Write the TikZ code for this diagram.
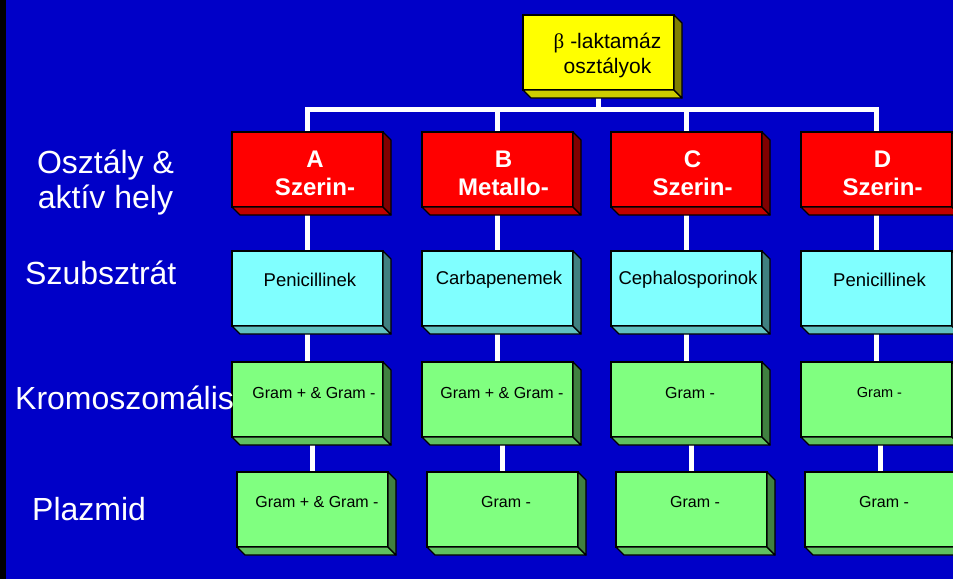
\documentclass[tikz,border=0pt]{standalone}
\usepackage{fontspec}
\setmainfont{Liberation Sans}
\newfontfamily\greekserif{Liberation Serif}
\pgfdeclarelayer{bg}
\pgfdeclarelayer{lines}
\pgfsetlayers{bg,lines,main}
\definecolor{bgblue}{HTML}{0000C8}
\definecolor{yfront}{HTML}{FFFF00}
\definecolor{ybottom}{HTML}{CCCC00}
\definecolor{yside}{HTML}{808000}
\definecolor{rfront}{HTML}{FF0000}
\definecolor{rbottom}{HTML}{C00000}
\definecolor{rside}{HTML}{800000}
\definecolor{cfront}{HTML}{80FFFF}
\definecolor{cbottom}{HTML}{60C0C0}
\definecolor{cside}{HTML}{408080}
\definecolor{gfront}{HTML}{80FF80}
\definecolor{gbottom}{HTML}{60C060}
\definecolor{gside}{HTML}{408040}
\tikzset{
  face/.style={draw=black, line width=1.2pt, minimum width=151pt, minimum height=75pt,
    inner sep=0pt, outer sep=0pt, anchor=north west},
  ybox/.style={face, fill=yfront},
  rbox/.style={face, fill=rfront},
  cbox/.style={face, fill=cfront},
  gbox/.style={face, fill=gfront},
  ytxt/.style={text=black, align=center, inner sep=0pt, font=\fontsize{21}{25}\selectfont},
  rtxt/.style={text=white, align=center, inner sep=0pt, font=\fontsize{24}{28}\selectfont\bfseries},
  ctxt/.style={text=black, inner sep=0pt, font=\fontsize{18.5}{22}\selectfont},
  gtxt/.style={text=black, inner sep=0pt, font=\fontsize{16}{19}\selectfont},
  gtxts/.style={text=black, inner sep=0pt, font=\fontsize{14.5}{17}\selectfont},
  conn/.style={draw=white, line width=5pt, line join=miter},
  lefttxt/.style={text=white, inner sep=0pt, font=\fontsize{32}{35}\selectfont},
}
\newcommand\threedee[3]{%
  \filldraw[fill=#2, draw=black, line width=1.2pt, line join=round]
    (#1.south west) -- ++(8,8) -- ([shift={(8,8)}]#1.south east) -- (#1.south east) -- cycle;
  \filldraw[fill=#3, draw=black, line width=1.2pt, line join=round]
    (#1.north east) -- ++(8,8) -- ([shift={(8,8)}]#1.south east) -- (#1.south east) -- cycle;
}
\begin{document}
\begin{tikzpicture}[x=1pt, y=-1pt]
\clip (0,0) rectangle (953,579);
\begin{pgfonlayer}{bg}
  \fill[bgblue] (0,0) rectangle (953,579);
  \fill[black] (0,0) rectangle (6,579);
\end{pgfonlayer}

% top box
\node[ybox, label={[ytxt, shift={(9,3)}]center:{{\greekserif β} -laktamáz\\osztályok}}] (Y) at (523,15) {};
\threedee{Y}{ybottom}{yside}

% class row
\node[rbox, label={[rtxt, shift={(7.5,3.5)}]center:{A\\Szerin-}}] (rA) at (232,132) {};
\node[rbox, label={[rtxt, shift={(6,3.5)}]center:{B\\Metallo-}}] (rB) at (422,132) {};
\node[rbox, label={[rtxt, shift={(6,3.5)}]center:{C\\Szerin-}}] (rC) at (611,132) {};
\node[rbox, label={[rtxt, shift={(6,3.5)}]center:{D\\Szerin-}}] (rD) at (801,132) {};

% substrate row
\node[cbox, label={[ctxt, shift={(2.5,-8.5)}]center:Penicillinek}] (cA) at (232,251) {};
\node[cbox, label={[ctxt, shift={(1.5,-8.5)}]center:Carbapenemek}] (cB) at (422,251) {};
\node[cbox, label={[ctxt, shift={(1.5,-8.5)}]center:Cephalosporinok}] (cC) at (611,251) {};
\node[cbox, label={[ctxt, shift={(3,-8.5)}]center:Penicillinek}] (cD) at (801,251) {};

% chromosomal row
\node[gbox, label={[gtxt, shift={(6.5,-6.5)}]center:Gram + \& Gram -}] (kA) at (232,362) {};
\node[gbox, label={[gtxt, shift={(4.5,-6.5)}]center:Gram + \& Gram -}] (kB) at (422,362) {};
\node[gbox, label={[gtxt, shift={(3.5,-6.5)}]center:Gram -}] (kC) at (611,362) {};
\node[gbox, label={[gtxts, shift={(3,-6.5)}]center:Gram -}] (kD) at (801,362) {};

% plasmid row
\node[gbox, label={[gtxt, shift={(4.5,-7.5)}]center:Gram + \& Gram -}] (pA) at (237,472) {};
\node[gbox, label={[gtxt, shift={(3.5,-7.5)}]center:Gram -}] (pB) at (427,472) {};
\node[gbox, label={[gtxt, shift={(3.5,-7.5)}]center:Gram -}] (pC) at (616,472) {};
\node[gbox, label={[gtxt, shift={(3.5,-7.5)}]center:Gram -}] (pD) at (805,472) {};

\foreach \c in {A,B,C,D}{
  \threedee{r\c}{rbottom}{rside}
  \threedee{c\c}{cbottom}{cside}
  \threedee{k\c}{gbottom}{gside}
  \threedee{p\c}{gbottom}{gside}
}

% connectors
\coordinate (bus) at (599,109.5);
\begin{pgfonlayer}{lines}
  \draw[conn] (Y) -- (Y |- bus);
  \draw[conn] (rA) -- (rA |- bus) -- (rD |- bus) -- (rD);
  \draw[conn] (rB) -- (rB |- bus);
  \draw[conn] (rC) -- (rC |- bus);
  \foreach \c in {A,B,C,D}{
    \draw[conn] (r\c) -- (c\c) -- (k\c);
    \draw[conn] (p\c) -- (p\c |- k\c);
  }
\end{pgfonlayer}

% row labels
\node[lefttxt, align=center, anchor=north] (l1) at (105.5,150) {Osztály \&\\aktív hely};
\node[lefttxt, anchor=base west] (l2) at (25,284) {Szubsztrát};
\node[lefttxt, anchor=base west] (l3) at (15,409) {Kromoszomális};
\node[lefttxt, anchor=base west] (l4) at (32,520) {Plazmid};
\end{tikzpicture}
\end{document}
